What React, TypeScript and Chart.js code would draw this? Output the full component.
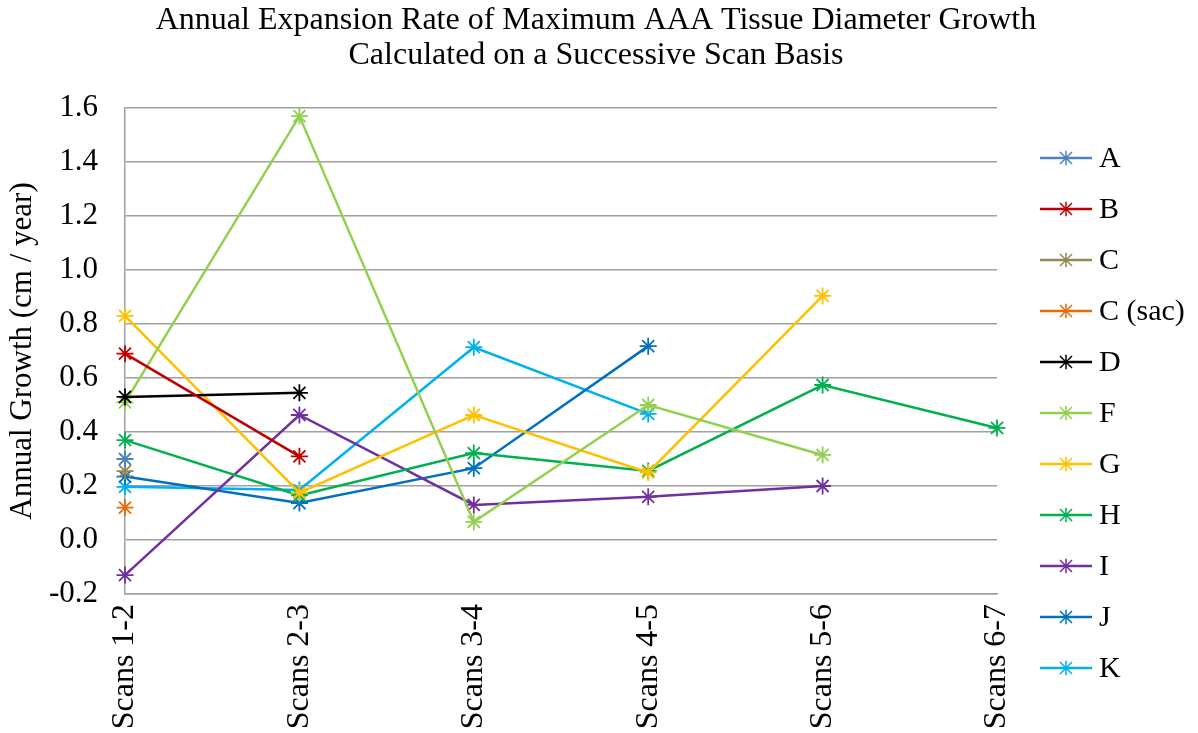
import React, { useEffect, useRef } from "react";
import { Chart, registerables } from "chart.js";

Chart.register(...registerables);

const categories = ["Scans 1-2", "Scans 2-3", "Scans 3-4", "Scans 4-5", "Scans 5-6", "Scans 6-7"];

const seriesA = [0.30, null, null, null, null, null];
const seriesB = [0.69, 0.31, null, null, null, null];
const seriesC = [0.255, null, null, null, null, null];
const seriesCsac = [0.12, null, null, null, null, null];
const seriesD = [0.53, 0.545, null, null, null, null];
const seriesF = [0.51, 1.57, 0.067, 0.50, 0.315, null];
const seriesG = [0.83, 0.175, 0.463, 0.25, 0.904, null];
const seriesH = [0.37, 0.165, 0.322, 0.256, 0.574, 0.415];
const seriesI = [-0.13, 0.463, 0.13, 0.16, 0.20, null];
const seriesJ = [0.235, 0.137, 0.266, 0.718, null, null];
const seriesK = [0.197, 0.185, 0.714, 0.467, null, null];

const seriesLabels = ["A", "B", "C", "C (sac)", "D", "F", "G", "H", "I", "J", "K"];
const seriesColors = [
  "#4F81BD", "#C00000", "#948A54", "#E46C0A", "#000000", "#92D050",
  "#FFC000", "#00B050", "#7030A0", "#0070C0", "#00B0F0",
];
const seriesValues = [
  seriesA, seriesB, seriesC, seriesCsac, seriesD, seriesF,
  seriesG, seriesH, seriesI, seriesJ, seriesK,
];

const titleLines = [
  "Annual Expansion Rate of Maximum AAA Tissue Diameter Growth",
  "Calculated on a Successive Scan Basis",
];

const FONT = "'Liberation Serif', 'Times New Roman', serif";
const W = 1198;
const H = 733;

// Two-line title centred over the whole canvas (legend column included).
const wideTitle = {
  id: "wideTitle",
  afterDraw(chart: any) {
    const ctx = chart.ctx;
    ctx.save();
    ctx.fillStyle = "#000";
    ctx.font = `32px ${FONT}`;
    ctx.textAlign = "center";
    ctx.textBaseline = "middle";
    titleLines.forEach((line, i) => {
      ctx.fillText(line, 596, 21 + i * 35);
    });
    ctx.restore();
  },
};

// Legend on the right: short line with a star marker, then the series name.
const sideLegend = {
  id: "sideLegend",
  afterDraw(chart: any) {
    const ctx = chart.ctx;
    const x0 = 1040;
    const y0 = 158;
    const gap = 51;
    ctx.save();
    chart.data.datasets.forEach((ds: any, i: number) => {
      const y = y0 + i * gap;
      ctx.strokeStyle = ds.borderColor;
      ctx.lineWidth = 2.5;
      ctx.beginPath();
      ctx.moveTo(x0, y);
      ctx.lineTo(x0 + 52, y);
      ctx.stroke();
      const cx = x0 + 26;
      const r = 6;
      ctx.lineWidth = 1.5;
      ctx.beginPath();
      ctx.moveTo(cx - r, y - r);
      ctx.lineTo(cx + r, y + r);
      ctx.moveTo(cx + r, y - r);
      ctx.lineTo(cx - r, y + r);
      ctx.moveTo(cx, y - r * 1.2);
      ctx.lineTo(cx, y + r * 1.2);
      ctx.stroke();
      ctx.fillStyle = "#000";
      ctx.font = `30px ${FONT}`;
      ctx.textBaseline = "middle";
      ctx.textAlign = "left";
      ctx.fillText(ds.label, x0 + 59, y + 1);
    });
    ctx.restore();
  },
};

export default function App() {
  const ref = useRef<HTMLCanvasElement | null>(null);

  useEffect(() => {
    if (!ref.current) return;
    const chart = new Chart(ref.current, {
      type: "line",
      data: {
        labels: categories,
        datasets: seriesLabels.map((label, i) => ({
          label,
          data: seriesValues[i],
          borderColor: seriesColors[i],
          backgroundColor: seriesColors[i],
          borderWidth: 2.5,
          pointStyle: "star",
          pointRadius: 8.5,
          pointBorderWidth: 1.8,
          pointHoverRadius: 8.5,
          spanGaps: false,
          tension: 0,
        })),
      },
      options: {
        responsive: false,
        animation: false,
        layout: { padding: { top: 108, right: W - 997, left: 0, bottom: 0 } },
        plugins: {
          legend: { display: false },
          tooltip: { enabled: false },
          title: { display: false },
        },
        scales: {
          x: {
            offset: false,
            afterFit: (s: any) => {
              s.height = H - 594;
            },
            grid: { display: false, drawTicks: false },
            border: { display: true, color: "#a0a0a0", width: 1.5 },
            ticks: {
              color: "#000",
              font: { family: FONT, size: 32 },
              maxRotation: 90,
              minRotation: 90,
              padding: 10,
            },
          },
          y: {
            min: -0.2,
            max: 1.6,
            afterFit: (s: any) => {
              s.width = 125;
            },
            grid: { color: "#a0a0a0", lineWidth: 1.5, drawTicks: false },
            border: { display: true, color: "#a0a0a0", width: 1.5 },
            ticks: {
              stepSize: 0.2,
              color: "#000",
              font: { family: FONT, size: 31 },
              padding: 27,
              callback: (v: any) => Number(v).toFixed(1),
            },
            title: {
              display: true,
              text: "Annual Growth (cm / year)",
              color: "#000",
              font: { family: FONT, size: 31 },
              padding: { top: 4, bottom: 0 },
            },
          },
        },
      },
      plugins: [wideTitle, sideLegend],
    });
    return () => chart.destroy();
  }, []);

  return (
    <div style={{ position: "absolute", left: 0, top: 0, width: W, height: H }}>
      <canvas ref={ref} width={W} height={H} style={{ display: "block" }} />
    </div>
  );
}
